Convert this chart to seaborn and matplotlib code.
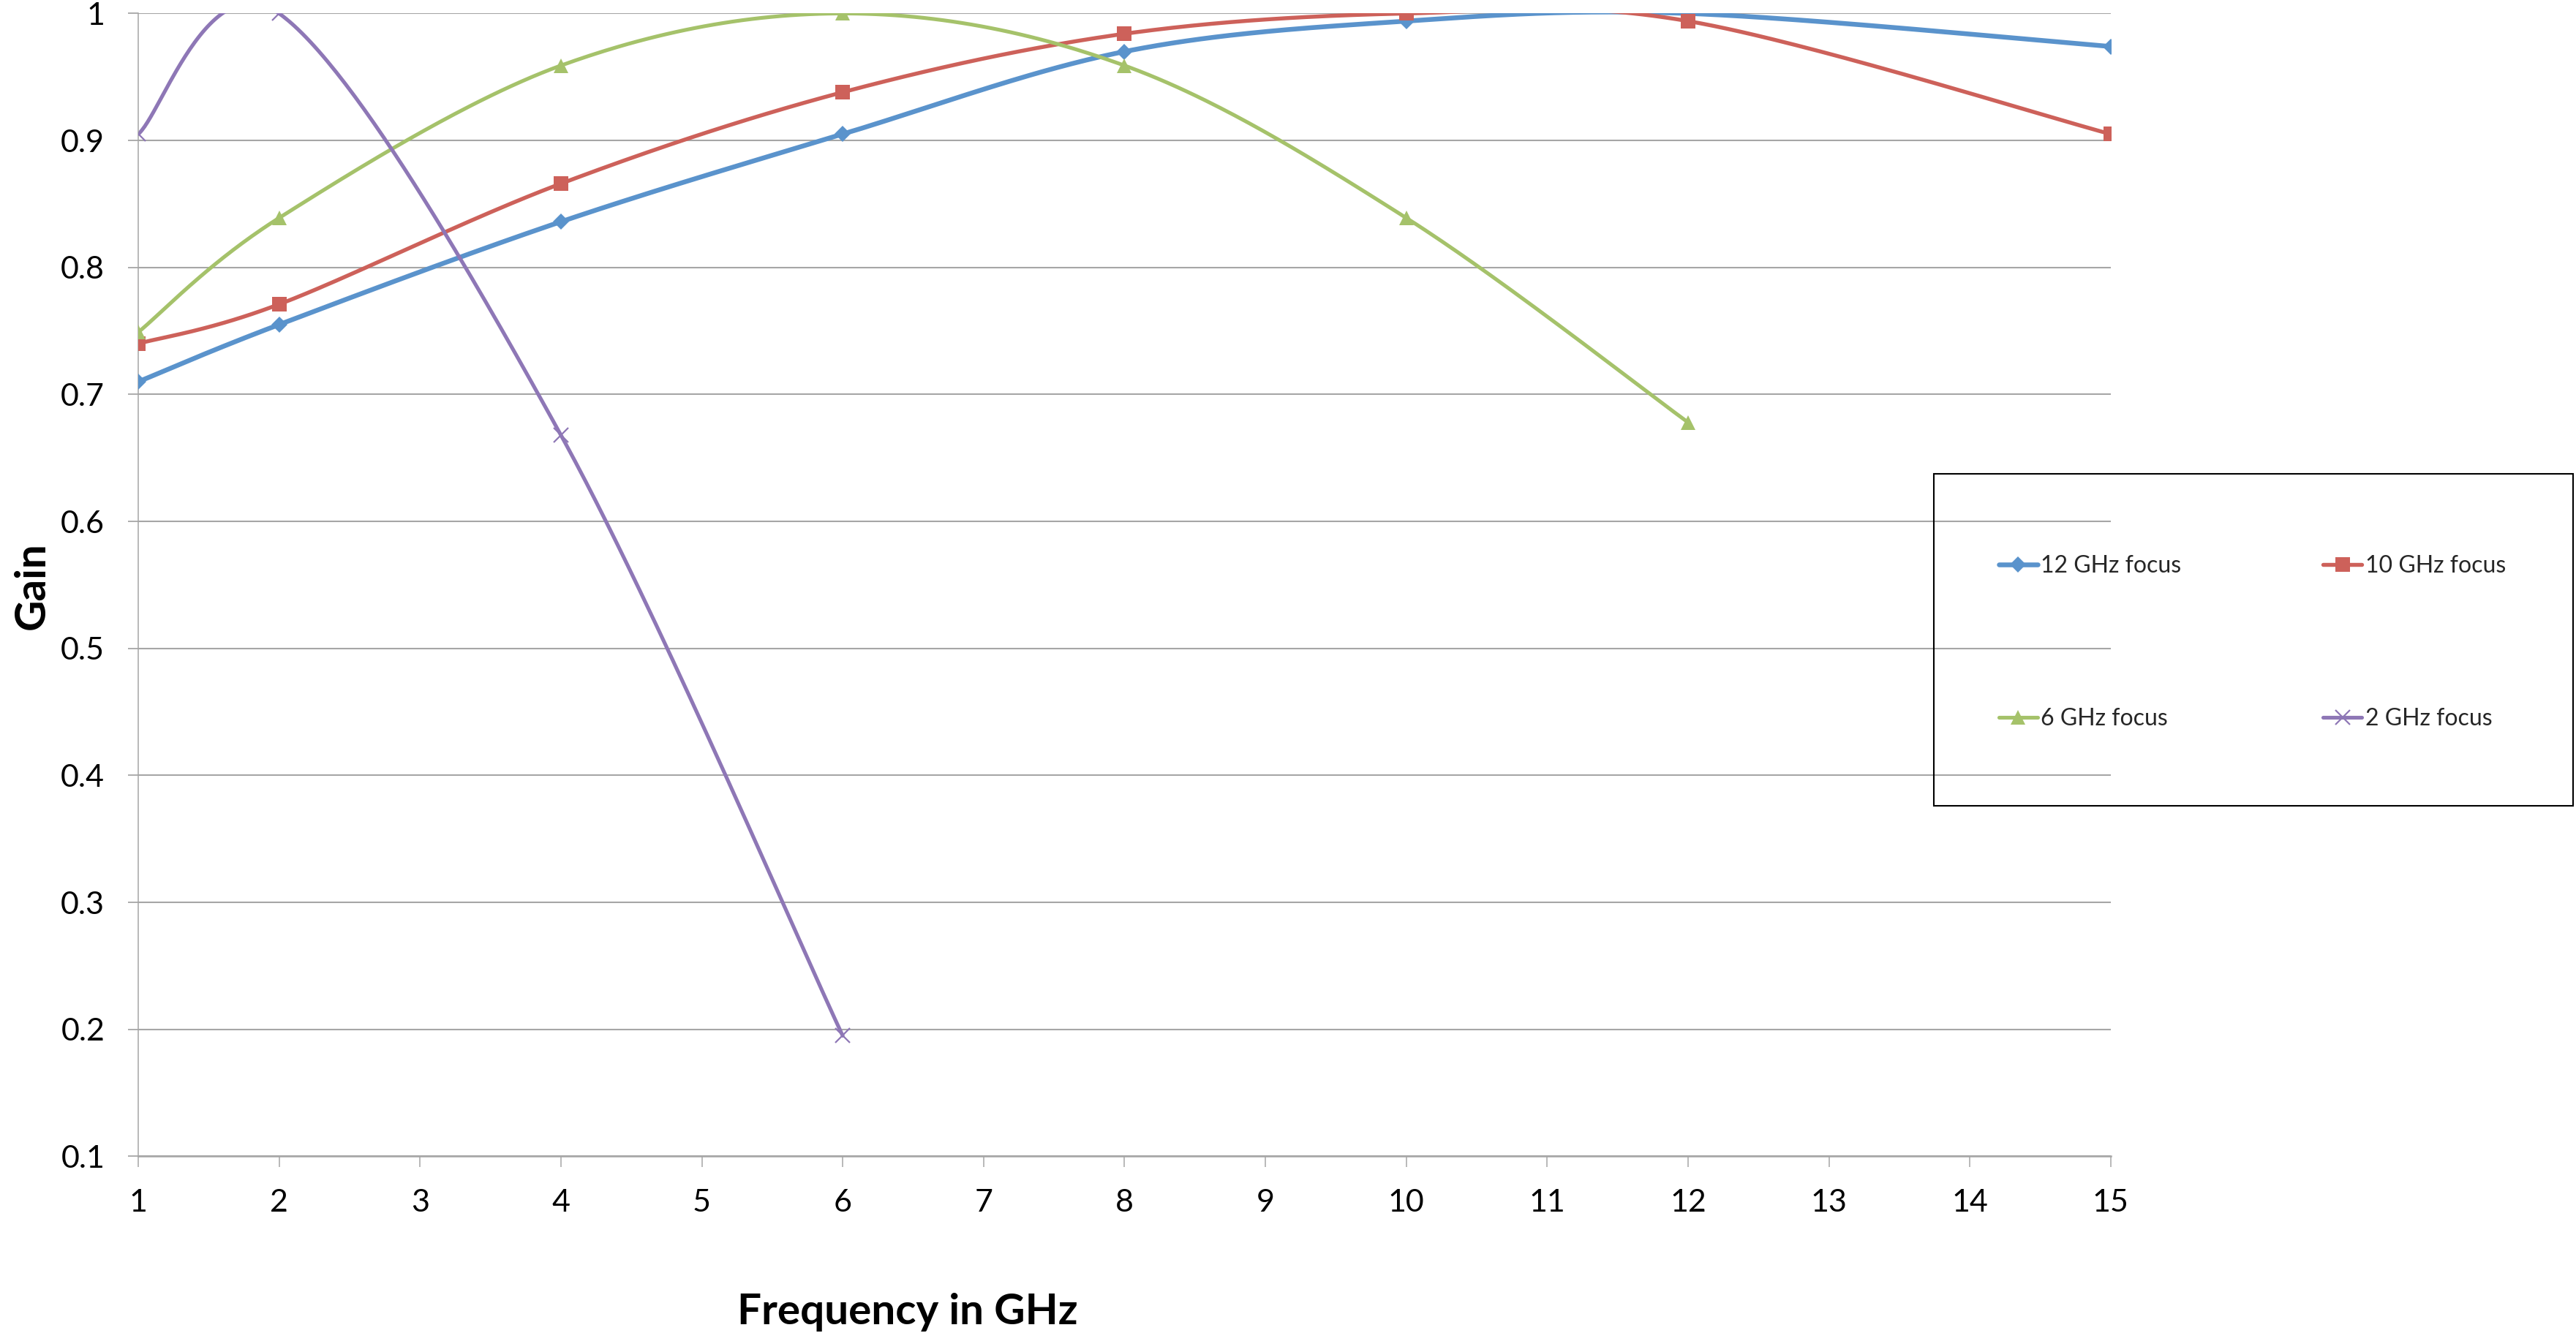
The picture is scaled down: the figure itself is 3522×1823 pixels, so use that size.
import numpy as np
import matplotlib
matplotlib.use("Agg")
import matplotlib.pyplot as plt
from matplotlib.lines import Line2D
from matplotlib.patches import Rectangle
import seaborn as sns

# ---- data ----
x_12 = [1, 2, 4, 6, 8, 10, 12, 15]
y_12 = [0.710, 0.755, 0.836, 0.905, 0.970, 0.994, 1.000, 0.974]

x_10 = [1, 2, 4, 6, 8, 10, 12, 15]
y_10 = [0.740, 0.771, 0.866, 0.938, 0.984, 1.000, 0.994, 0.905]

x_6 = [1, 2, 4, 6, 8, 10, 12]
y_6 = [0.749, 0.839, 0.959, 1.000, 0.959, 0.839, 0.678]

x_2 = [1, 2, 4, 6]
y_2 = [0.905, 1.000, 0.668, 0.195]

series_labels = ["12 GHz focus", "10 GHz focus", "6 GHz focus", "2 GHz focus"]
series_colors = ["#5A93CC", "#CD615A", "#A5C26A", "#8E77B6"]
series_markers = ["D", "s", "^", "x"]

x_ticks = list(range(1, 16))
y_ticks = [0.1, 0.2, 0.3, 0.4, 0.5, 0.6, 0.7, 0.8, 0.9, 1.0]
y_tick_labels = ["0.1", "0.2", "0.3", "0.4", "0.5", "0.6", "0.7", "0.8", "0.9", "1"]


def excel_smooth(xs, ys, n=60):
    """Bezier smoothing through the data points (Excel-style smoothed line)."""
    pts = np.column_stack([xs, ys]).astype(float)
    out = []
    t = np.linspace(0, 1, n)[:, None]
    for i in range(len(pts) - 1):
        p0 = pts[i - 1] if i > 0 else pts[i]
        p1 = pts[i]
        p2 = pts[i + 1]
        p3 = pts[i + 2] if i + 2 < len(pts) else pts[i + 1]
        c1 = p1 + (p2 - p0) / 6.0
        c2 = p2 - (p3 - p1) / 6.0
        seg = ((1 - t) ** 3) * p1 + 3 * ((1 - t) ** 2) * t * c1 + 3 * (1 - t) * t ** 2 * c2 + t ** 3 * p2
        out.append(seg if i == 0 else seg[1:])
    out = np.vstack(out)
    return out[:, 0], out[:, 1]


sns.set_theme(style="white")
plt.rcParams["font.family"] = ["Lato", "DejaVu Sans"]

fig = plt.figure(figsize=(35.23, 18.23), dpi=100)
ax = fig.add_axes([0.05365, 0.1325, 0.7655, 0.8574])

grid_color = "#A6A6A6"
ax.set_axisbelow(True)
ax.yaxis.grid(True, color=grid_color, linewidth=1.5)
ax.xaxis.grid(False)

all_x = [x_12, x_10, x_6, x_2]
all_y = [y_12, y_10, y_6, y_2]
line_widths = [4.7, 3.9, 3.7, 3.7]
marker_sizes = [11.5, 15, 15, 15]

for xs, ys, col, mk, lw, ms in zip(all_x, all_y, series_colors, series_markers, line_widths, marker_sizes):
    sx, sy = excel_smooth(xs, ys)
    n_before = len(ax.lines)
    sns.lineplot(x=sx, y=sy, sort=False, estimator=None, ax=ax, color=col, linewidth=lw)
    for ln in ax.lines[n_before:]:
        ln.set_linewidth(lw)
        ln.set_solid_capstyle("round")
        ln.set_solid_joinstyle("round")
    if mk == "x":
        ax.plot(xs, ys, ls="none", marker=mk, ms=ms, mew=1.6, color=col, zorder=4)
    else:
        ax.plot(xs, ys, ls="none", marker=mk, ms=ms, mew=0, color=col, zorder=4)

ax.set_xlim(1, 15)
ax.set_ylim(0.1, 1.0)
ax.set_xticks(x_ticks)
ax.set_xticklabels([str(v) for v in x_ticks])
ax.set_yticks(y_ticks)
ax.set_yticklabels(y_tick_labels)
ax.set_xlabel("")
ax.set_ylabel("")

for s in ["top", "right"]:
    ax.spines[s].set_visible(False)
ax.spines["left"].set_color(grid_color)
ax.spines["left"].set_linewidth(1.1)
ax.spines["bottom"].set_color(grid_color)
ax.spines["bottom"].set_linewidth(1.8)

ax.tick_params(axis="x", which="major", direction="out", length=11, width=1.1,
               color=grid_color, labelsize=31, pad=21, labelcolor="black", bottom=True)
ax.tick_params(axis="y", which="major", direction="out", length=10, width=1.3,
               color=grid_color, labelsize=31, pad=23, labelcolor="black", left=True)

# axis titles
fig.text(1241 / 3523, 12 / 1823, "Frequency in GHz", fontsize=42, fontweight="bold",
         ha="center", va="baseline", color="black")
fig.text(44 / 3523, (1823 - 801) / 1823, "Gain", fontsize=42, fontweight="bold",
         rotation=90, ha="center", va="center", color="black")

# legend
handles = []
for col, mk, lw, ms in zip(series_colors, series_markers, line_widths, marker_sizes):
    if mk == "x":
        h = Line2D([], [], color=col, linewidth=lw, marker=mk, ms=ms, mew=1.6)
    else:
        h = Line2D([], [], color=col, linewidth=lw, marker=mk, ms=ms, mew=0)
    handles.append(h)
order = [0, 2, 1, 3]
yc = (1823 - 878.5) / 1823
fig.legend([handles[i] for i in order], [series_labels[i] for i in order],
           loc="center", bbox_to_anchor=(2733 / 3523, yc, (3426 - 2733) / 3523, 0),
           bbox_transform=fig.transFigure, mode="expand", ncol=2, frameon=False,
           fontsize=23, handlelength=1.65, handletextpad=0.15, labelspacing=5.6,
           borderpad=0, borderaxespad=0)
fig.patches.append(Rectangle((2644 / 3523, (1823 - 1102) / 1823), (3518 - 2644) / 3523,
                             (1102 - 648) / 1823, transform=fig.transFigure,
                             fill=False, ec="black", lw=1.5, zorder=5))

fig.savefig("out.png", dpi=100)
